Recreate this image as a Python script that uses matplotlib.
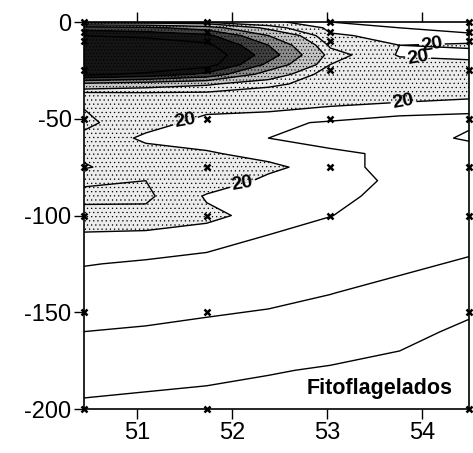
import numpy as np
import matplotlib
matplotlib.use("Agg")
import matplotlib.pyplot as plt

plt.rcParams['font.family'] = ['Liberation Sans', 'DejaVu Sans']
plt.rcParams['axes.unicode_minus'] = False
plt.rcParams['hatch.linewidth'] = 0.4

# grid columns (degrees) and depths (m)
lon = [50.44, 51.09, 51.73, 52.38, 53.03, 53.76, 54.49]
depth = [0, -3, -7, -12, -17, -22, -27, -32, -38, -45, -52, -60, -68, -75,
         -82, -90, -100, -110, -125, -140, -160, -180, -200]

# phytoflagellate abundance, one list per column (top to bottom)
c0 = [30, 90, 120, 135, 145, 150, 125, 55, 21, 30, 32, 28, 22, 19,
      28, 33, 26, 19, 15.2, 12.8, 10, 7, 4.2]
c1 = [30, 85, 115, 135, 145, 145, 115, 48, 24, 26, 24, 18, 24, 26,
      30, 32, 27, 18, 14.5, 12.3, 9.6, 6.5, 3.8]
c2 = [28, 70, 105, 125, 135, 130, 95, 42, 25, 22, 17, 16, 21, 28,
      26, 19, 22, 17, 13.7, 11.7, 9, 6, 3.5]
c3 = [22, 35, 60, 80, 90, 75, 50, 32, 25, 21, 16, 15, 17, 22,
      18, 16.5, 17, 15, 13, 11.2, 8.3, 5.3, 3]
c4 = [15, 18, 21, 28, 35, 30, 23, 26, 24, 19, 14.5, 14, 15.5, 16,
      16.5, 16.2, 15.1, 13.5, 12, 10.1, 7.7, 4.6, 2.7]
c5 = [12, 15, 18, 20, 19, 24, 26, 24, 22, 18, 12, 13.5, 14.5, 14,
      14.3, 13.5, 13, 12, 10.8, 8.8, 6, 4, 2.5]
c6 = [10, 13, 16, 21, 18, 22, 25, 23, 21, 17, 11, 9, 14, 11,
      14.5, 14, 13, 11.5, 9.5, 6.5, 4.3, 3.5, 2.5]

# sampling stations and depths
st_lon = [50.44, 51.73, 53.03, 54.49]
st_depths = [
    [0, -5, -10, -25, -50, -75, -100, -150, -200],
    [0, -5, -10, -25, -50, -75, -100, -150, -200],
    [0, -5, -10, -25, -50, -75, -100],
    [0, -5, -10, -25, -50, -75, -100, -150, -200],
]

line_levels = [5, 10, 15, 30, 40, 60, 80, 100, 120]
fill_levels = [0, 20, 40, 60, 80, 100, 200]
fill_colors = ['white', '#ececec', '#c4c4c4', '#8c8c8c', '#404040', '#151515']
fill_hatch = [None, '....', '.....', '.....', '.....', '.....']

X, Y = np.meshgrid(lon, depth)
Z = np.column_stack([c0, c1, c2, c3, c4, c5, c6])

fig = plt.figure(figsize=(4.73, 4.53), dpi=100)
ax = fig.add_axes([0.1776, 0.0971, 0.8139, 0.8543])

ax.contourf(X, Y, Z, levels=fill_levels, colors=fill_colors, hatches=fill_hatch)
ax.contour(X, Y, Z, levels=line_levels, colors='black', linewidths=1.0)
cs20 = ax.contour(X, Y, Z, levels=[20], colors='black', linewidths=1.0)
lbl = ax.clabel(cs20, fmt='%d', fontsize=14, inline=True, inline_spacing=2,
                manual=[(51.5, -50), (52.1, -82), (54.1, -12), (53.95, -23), (53.8, -40)])
for t in lbl:
    t.set_fontweight('bold')
    t.set_rotation(10)

for x, ds in zip(st_lon, st_depths):
    ax.plot([x] * len(ds), ds, 'x', color='black', ms=5, mew=1.8, clip_on=False)

ax.set_xlim(50.44, 54.49)
ax.set_ylim(-200, 0)
ax.set_xticks([51, 52, 53, 54])
ax.set_yticks([0, -50, -100, -150, -200])
ax.tick_params(axis='both', direction='out', length=7, width=1, labelsize=17, pad=2)
ax.tick_params(axis='x', top=True, labeltop=False)
for s in ax.spines.values():
    s.set_linewidth(1.2)

ax.text(0.958, 0.026, 'Fitoflagelados', transform=ax.transAxes, ha='right',
        va='bottom', fontsize=15.5, fontweight='bold')

fig.savefig('out.png', dpi=100)
